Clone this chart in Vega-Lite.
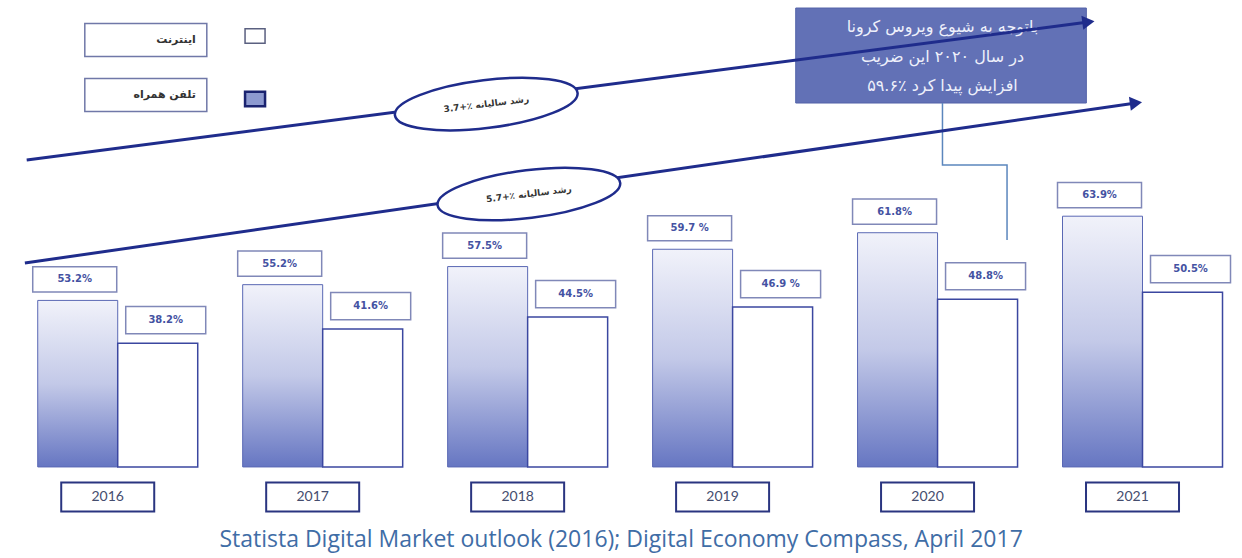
{
  "$schema": "https://vega.github.io/schema/vega-lite/v6.json",
  "width": 1242,
  "height": 558,
  "padding": 0,
  "autosize": {"type": "none"},
  "background": "white",
  "config": {"view": {"stroke": null}, "axis": {"disable": true}, "legend": {"disable": true}},
  "datasets": {
    "bars": [
      {"year": 2016, "series": "mobile", "pct": 53.2, "label": "53.2%"},
      {"year": 2017, "series": "mobile", "pct": 55.2, "label": "55.2%"},
      {"year": 2018, "series": "mobile", "pct": 57.5, "label": "57.5%"},
      {"year": 2019, "series": "mobile", "pct": 59.7, "label": "59.7 %"},
      {"year": 2020, "series": "mobile", "pct": 61.8, "label": "61.8%"},
      {"year": 2021, "series": "mobile", "pct": 63.9, "label": "63.9%"},
      {"year": 2016, "series": "internet", "pct": 38.2, "label": "38.2%"},
      {"year": 2017, "series": "internet", "pct": 41.6, "label": "41.6%"},
      {"year": 2018, "series": "internet", "pct": 44.5, "label": "44.5%"},
      {"year": 2019, "series": "internet", "pct": 46.9, "label": "46.9 %"},
      {"year": 2020, "series": "internet", "pct": 48.8, "label": "48.8%"},
      {"year": 2021, "series": "internet", "pct": 50.5, "label": "50.5%"}
    ],
    "arrows": [
      {"id": "upper", "step": 1, "year": 2015.556, "pct": 71.04},
      {"id": "upper", "step": 2, "year": 2020.736, "pct": 88.57},
      {"id": "lower", "step": 1, "year": 2015.547, "pct": 57.95},
      {"id": "lower", "step": 2, "year": 2020.968, "pct": 78.28}
    ],
    "connector": [
      {"step": 1, "year": 2020.024, "pct": 78.28},
      {"step": 2, "year": 2020.024, "pct": 70.41},
      {"step": 3, "year": 2020.339, "pct": 70.41},
      {"step": 4, "year": 2020.339, "pct": 60.88}
    ],
    "growth": [
      {"year": 2017.798, "pct": 78.15, "label": "3.7+٪ رشد سالیانه"},
      {"year": 2018.006, "pct": 66.72, "label": "5.7+٪ رشد سالیانه"}
    ],
    "notebox": [
      {"year": 2019.308, "year2": 2020.726, "pct": 90.35, "pct2": 78.28}
    ],
    "note": [
      {"year": 2020.024, "pct": 87.94, "label": "باتوجه به شیوع ویروس کرونا"},
      {"year": 2020.024, "pct": 84.13, "label": "در سال ۲۰۲۰ این ضریب"},
      {"year": 2020.024, "pct": 80.44, "label": "۵۹.۶٪ افزایش پیدا کرد"}
    ],
    "source": [
      {"year": 2018.456, "pct": 22.76, "label": "Statista Digital Market outlook (2016); Digital Economy Compass, April 2017"}
    ],
    "legend": [
      {"series": "internet", "year": 2016.137, "pct": 86.29, "label": "اینترنت", "keyYear": 2016.67, "keyPct": 86.8},
      {"series": "mobile", "year": 2016.137, "pct": 79.3, "label": "تلفن همراه", "keyYear": 2016.67, "keyPct": 78.79}
    ]
  },
  "resolve": {"scale": {"y": "independent"}},
  "layer": [
    {
      "encoding": {
        "x": {"field": "year", "type": "quantitative", "scale": {"domain": [2015.45, 2021.461], "nice": false, "zero": false}},
        "y": {"field": "pct", "type": "quantitative", "scale": {"domain": [20.47, 91.37], "nice": false, "zero": false}}
      },
      "layer": [
        {
          "data": {"name": "bars"},
          "transform": [{"filter": "datum.series == 'mobile'"}],
          "mark": {"type": "bar", "width": 80, "xOffset": -40, "stroke": "#5a68b4", "strokeWidth": 1,
            "fill": {"gradient": "linear", "x1": 0, "y1": 0, "x2": 0, "y2": 1,
              "stops": [{"offset": 0, "color": "#f1f2fa"}, {"offset": 0.5, "color": "#c3c9e8"}, {"offset": 1, "color": "#6676c2"}]}},
          "encoding": {"y2": {"datum": 32.04}}
        },
        {
          "data": {"name": "bars"},
          "transform": [{"filter": "datum.series == 'mobile'"}],
          "mark": {"type": "point", "shape": "M-1,-0.3H1V0.3H-1Z", "size": 7056, "filled": true, "fill": "white", "stroke": "#8088b8", "strokeWidth": 1.5, "opacity": 1, "xOffset": -43, "yOffset": -21}
        },
        {
          "data": {"name": "bars"},
          "transform": [{"filter": "datum.series == 'mobile'"}],
          "mark": {"type": "text", "font": "DejaVu Sans", "fontSize": 10, "fontWeight": "bold", "fill": "#4452a2", "xOffset": -43, "yOffset": -21, "baseline": "middle"},
          "encoding": {"text": {"field": "label"}}
        },
        {
          "data": {"name": "bars"},
          "transform": [{"filter": "datum.series == 'mobile'"}],
          "mark": {"type": "point", "shape": "M-1,-0.31H1V0.31H-1Z", "size": 8649, "filled": true, "fill": "white", "stroke": "#2a3580", "strokeWidth": 2, "opacity": 1, "xOffset": -10},
          "encoding": {"y": {"datum": 28.22, "type": "quantitative", "scale": {"domain": [20.47, 91.37], "nice": false, "zero": false}}}
        },
        {
          "data": {"name": "bars"},
          "transform": [{"filter": "datum.series == 'mobile'"}],
          "mark": {"type": "text", "font": "Lato", "fontSize": 14, "fill": "#454d6e", "xOffset": -10, "baseline": "middle"},
          "encoding": {
            "y": {"datum": 28.22, "type": "quantitative", "scale": {"domain": [20.47, 91.37], "nice": false, "zero": false}},
            "text": {"field": "year", "type": "nominal"}
          }
        },
        {
          "data": {"name": "source"},
          "mark": {"type": "text", "font": "Open Sans", "fontSize": 23, "fill": "#3f6da6", "baseline": "middle"},
          "encoding": {"text": {"field": "label"}}
        },
        {
          "data": {"name": "notebox"},
          "mark": {"type": "rect", "fill": "#6271b6", "stroke": "#5363a8", "strokeWidth": 1},
          "encoding": {"x2": {"field": "year2"}, "y2": {"field": "pct2"}}
        },
        {
          "data": {"name": "note"},
          "mark": {"type": "text", "font": "DejaVu Sans", "fontSize": 16, "fill": "#eef0fb", "dir": "rtl", "align": "center", "baseline": "middle"},
          "encoding": {"text": {"field": "label"}}
        },
        {
          "data": {"name": "connector"},
          "mark": {"type": "line", "stroke": "#5b86bd", "strokeWidth": 1.5},
          "encoding": {"order": {"field": "step"}}
        },
        {
          "data": {"name": "arrows"},
          "mark": {"type": "line", "stroke": "#1f2c8c", "strokeWidth": 3},
          "encoding": {"detail": {"field": "id"}, "order": {"field": "step"}}
        },
        {
          "data": {"name": "arrows"},
          "transform": [{"filter": "datum.step == 2"}],
          "mark": {"type": "point", "shape": "triangle-right", "size": 200, "filled": true, "fill": "#1f2c8c", "opacity": 1, "angle": -7.7}
        },
        {
          "data": {"name": "growth"},
          "mark": {"type": "point", "shape": "M-1,0A1,0.26,0,1,1,1,0A1,0.26,0,1,1,-1,0Z", "size": 33856, "angle": -7, "filled": true, "fill": "white", "stroke": "#1f2c8c", "strokeWidth": 2.5, "opacity": 1}
        },
        {
          "data": {"name": "growth"},
          "mark": {"type": "text", "font": "DejaVu Sans", "fontSize": 9, "fontWeight": "bold", "fill": "#333333", "angle": 353, "dir": "rtl", "align": "center", "baseline": "middle"},
          "encoding": {"text": {"field": "label"}}
        },
        {
          "data": {"name": "legend"},
          "mark": {"type": "point", "shape": "M-1,-0.27H1V0.27H-1Z", "size": 14884, "filled": true, "fill": "white", "stroke": "#7078a8", "strokeWidth": 1.5, "opacity": 1}
        },
        {
          "data": {"name": "legend"},
          "mark": {"type": "text", "font": "DejaVu Sans", "fontSize": 11, "fontWeight": "bold", "fill": "#333333", "dir": "rtl", "align": "right", "baseline": "middle", "xOffset": 50},
          "encoding": {"text": {"field": "label"}}
        },
        {
          "data": {"name": "legend"},
          "transform": [{"filter": "datum.series == 'internet'"}],
          "mark": {"type": "point", "shape": "M-1,-0.72H1V0.72H-1Z", "size": 400, "filled": true, "fill": "white", "stroke": "#5a6080", "strokeWidth": 1.5, "opacity": 1},
          "encoding": {"x": {"field": "keyYear", "type": "quantitative", "scale": {"domain": [2015.45, 2021.461], "nice": false, "zero": false}}, "y": {"field": "keyPct", "type": "quantitative", "scale": {"domain": [20.47, 91.37], "nice": false, "zero": false}}}
        },
        {
          "data": {"name": "legend"},
          "transform": [{"filter": "datum.series == 'mobile'"}],
          "mark": {"type": "point", "shape": "M-1,-0.72H1V0.72H-1Z", "size": 400, "filled": true, "fill": "#8d9ad0", "stroke": "#1a2370", "strokeWidth": 2.5, "opacity": 1},
          "encoding": {"x": {"field": "keyYear", "type": "quantitative", "scale": {"domain": [2015.45, 2021.461], "nice": false, "zero": false}}, "y": {"field": "keyPct", "type": "quantitative", "scale": {"domain": [20.47, 91.37], "nice": false, "zero": false}}}
        }
      ]
    },
    {
      "data": {"name": "bars"},
      "transform": [{"filter": "datum.series == 'internet'"}],
      "encoding": {
        "x": {"field": "year", "type": "quantitative", "scale": {"domain": [2015.45, 2021.461], "nice": false, "zero": false}},
        "y": {"field": "pct", "type": "quantitative", "scale": {"domain": [-13.55, 120.9], "nice": false, "zero": false}}
      },
      "layer": [
        {
          "mark": {"type": "bar", "width": 80, "xOffset": 40, "fill": "white", "stroke": "#3b47a0", "strokeWidth": 1.5},
          "encoding": {"y2": {"datum": 8.38}}
        },
        {
          "mark": {"type": "point", "shape": "M-1,-0.34H1V0.34H-1Z", "size": 6400, "filled": true, "fill": "white", "stroke": "#8088b8", "strokeWidth": 1.5, "opacity": 1, "xOffset": 48, "yOffset": -23}
        },
        {
          "mark": {"type": "text", "font": "DejaVu Sans", "fontSize": 10, "fontWeight": "bold", "fill": "#4452a2", "xOffset": 48, "yOffset": -23, "baseline": "middle"},
          "encoding": {"text": {"field": "label"}}
        }
      ]
    }
  ]
}
